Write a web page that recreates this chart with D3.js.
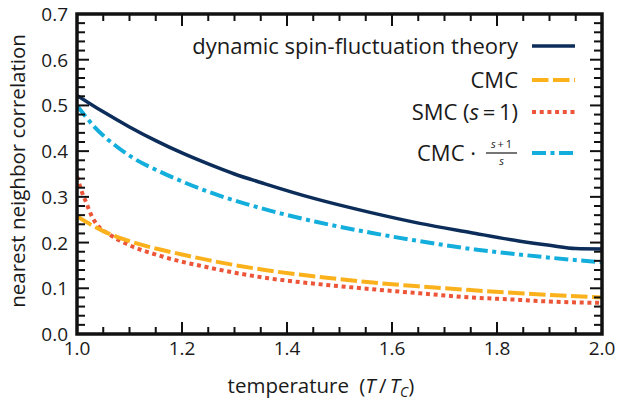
<!DOCTYPE html>
<html><head><meta charset="utf-8">
<script src="https://cdn.jsdelivr.net/npm/d3@7/dist/d3.min.js"></script>
<style>body{margin:0;background:#fff}svg{display:block}text{font-family:"Open Sans",sans-serif;fill:#1a1a1a}</style>
</head><body><svg id="c" width="617" height="402"></svg>
<script>
// Data
const tDyn = [1.0,1.05,1.1,1.15,1.2,1.25,1.3,1.358,1.453,1.558,1.653,1.749,1.844,1.9,1.95,2.0];
const vDyn = [0.522,0.486,0.453,0.423,0.396,0.372,0.350,0.3285,0.296,0.266,0.242,0.222,0.203,0.194,0.187,0.186];
const tCMC = [1.0,1.05,1.1,1.15,1.2,1.253,1.358,1.453,1.558,1.653,1.749,1.844,2.0];
const vCMC = [0.257,0.225,0.203,0.187,0.174,0.161,0.140,0.126,0.113,0.104,0.096,0.089,0.080];
const tSMC = [1.0,1.008,1.018,1.028,1.037,1.063,1.091,1.164,1.244,1.364,1.453,1.562,1.653,1.749,1.844,1.882,2.0];
const vSMC = [0.345,0.315,0.286,0.258,0.241,0.217,0.199,0.169,0.147,0.122,0.110,0.098,0.089,0.080,0.0746,0.072,0.068];
const tScaled = [1.0,1.034,1.078,1.107,1.164,1.253,1.364,1.453,1.562,1.653,1.758,1.834,1.9,2.0];
const vScaled = [0.500,0.452,0.408,0.385,0.352,0.310,0.271,0.246,0.221,0.203,0.185,0.175,0.167,0.157];
const xTicks = [1.0,1.2,1.4,1.6,1.8,2.0];
const yTicks = [0.0,0.1,0.2,0.3,0.4,0.5,0.6,0.7];

const L=77,R=602,T=14,B=334;
const svg=d3.select('#c');
const x=d3.scaleLinear().domain([1,2]).range([L,R]);
const y=d3.scaleLinear().domain([0,0.7]).range([B,T]);

svg.append('clipPath').attr('id','clip').append('rect').attr('x',L).attr('y',T).attr('width',R-L).attr('height',B-T);

const series=[
 {t:tSMC,v:vSMC,color:'#ec5538',w:4,dash:'4,3.7'},
 {t:tCMC,v:vCMC,color:'#fbb11c',w:4,dash:'16.5,4.5'},
 {t:tScaled,v:vScaled,color:'#13aedc',w:4,dash:'14,4.5,4,4.5'},
 {t:tDyn,v:vDyn,color:'#0c2d5a',w:3.5,dash:null}
];
const line=d3.line().x(d=>x(d[0])).y(d=>y(d[1])).curve(d3.curveMonotoneX);
const g=svg.append('g').attr('clip-path','url(#clip)');
series.forEach(s=>{
  const p=g.append('path').datum(s.t.map((t,i)=>[t,s.v[i]])).attr('d',line)
   .attr('fill','none').attr('stroke',s.color).attr('stroke-width',s.w);
  if(s.dash)p.attr('stroke-dasharray',s.dash);
});

// ticks
const tk=svg.append('g').attr('stroke','#111').attr('stroke-width',2);
d3.range(0,21).map(i=>1+i*0.05).forEach(v=>{
  const major=Math.abs((v-1)/0.2-Math.round((v-1)/0.2))<1e-6;
  const len=major?12:7;
  tk.append('line').attr('x1',x(v)).attr('x2',x(v)).attr('y1',B).attr('y2',B-len);
  tk.append('line').attr('x1',x(v)).attr('x2',x(v)).attr('y1',T).attr('y2',T+len);
});
d3.range(0,36).map(i=>i*0.02).forEach(v=>{
  const major=Math.abs(v/0.1-Math.round(v/0.1))<1e-6;
  const len=major?12:8;
  tk.append('line').attr('y1',y(v)).attr('y2',y(v)).attr('x1',L).attr('x2',L+len);
  tk.append('line').attr('y1',y(v)).attr('y2',y(v)).attr('x1',R).attr('x2',R-len);
});
svg.append('rect').attr('x',L).attr('y',T).attr('width',R-L).attr('height',B-T)
  .attr('fill','none').attr('stroke','#111').attr('stroke-width',3.5);

// tick labels
svg.selectAll('.xl').data(xTicks).enter().append('text').attr('x',d=>x(d)).attr('y',B+21)
  .attr('text-anchor','middle').attr('font-size',19).text(d=>d.toFixed(1));
svg.selectAll('.yl').data(yTicks).enter().append('text').attr('x',L-9).attr('y',d=>y(d)+7)
  .attr('text-anchor','end').attr('font-size',19).text(d=>d.toFixed(1));

// axis titles
const xt=svg.append('text').attr('x',321).attr('y',393).attr('text-anchor','middle').attr('font-size',20.5);
xt.append('tspan').text('temperature\u2002(');
xt.append('tspan').attr('font-style','italic').text('T');
xt.append('tspan').text('\u2009/\u2009');
xt.append('tspan').attr('font-style','italic').text('T');
xt.append('tspan').attr('font-style','italic').attr('font-size',14).attr('dy',4).text('C');
xt.append('tspan').attr('dy',-4).text(')');
svg.append('text').attr('transform',`translate(25,171) rotate(-90)`).attr('text-anchor','middle')
  .attr('font-size',20.5).text('nearest neighbor correlation');

// legend
const lx1=532,lx2=575,tx=518;
const rows=[46,80,112,153];
const lg=svg.append('g');
[3,1,0,2].forEach((si,i)=>{
  const s=series[si];
  const l=lg.append('line').attr('x1',lx1).attr('x2',lx2).attr('y1',rows[i]).attr('y2',rows[i])
    .attr('stroke',s.color).attr('stroke-width',s.w);
  if(s.dash)l.attr('stroke-dasharray',s.dash);
});
lg.append('text').attr('x',tx).attr('y',rows[0]+7.5).attr('text-anchor','end').attr('font-size',22).text('dynamic spin-fluctuation theory');
lg.append('text').attr('x',tx).attr('y',rows[1]+7.5).attr('text-anchor','end').attr('font-size',22).text('CMC');
const sm=lg.append('text').attr('x',tx).attr('y',rows[2]+7.5).attr('text-anchor','end').attr('font-size',22);
sm.append('tspan').text('SMC (');
sm.append('tspan').attr('font-style','italic').text('s');
sm.append('tspan').text('\u2009=\u20091)');
lg.append('text').attr('x',476).attr('y',rows[3]+7.5).attr('text-anchor','end').attr('font-size',22).text('CMC \u00b7');
lg.append('line').attr('x1',486).attr('x2',517).attr('y1',rows[3]).attr('y2',rows[3]).attr('stroke','#1a1a1a').attr('stroke-width',1.2);
const nu=lg.append('text').attr('x',501.5).attr('y',rows[3]-5).attr('text-anchor','middle').attr('font-size',11);
nu.append('tspan').attr('font-style','italic').text('s');
nu.append('tspan').text('\u2009+\u20091');
lg.append('text').attr('x',501.5).attr('y',rows[3]+11.5).attr('text-anchor','middle').attr('font-size',11)
  .attr('font-style','italic').text('s');
</script></body></html>
